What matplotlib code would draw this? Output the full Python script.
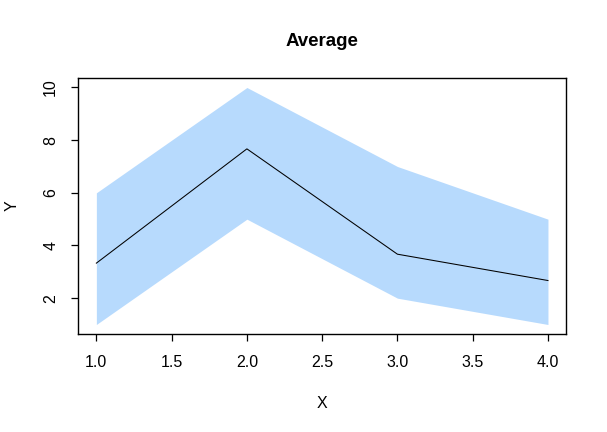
import matplotlib
matplotlib.use("Agg")
import matplotlib.pyplot as plt

# values
x = [1, 2, 3, 4]
upper = [6, 10, 7, 5]
lower = [1, 5, 2, 1]
avg = [3.33, 7.67, 3.67, 2.67]

plt.rcParams['font.family'] = ['Liberation Sans', 'DejaVu Sans']

fig = plt.figure(figsize=(6.07, 4.32), dpi=100)
ax = fig.add_axes([0.129, 0.2269, 0.8035, 0.5925])

ax.fill_between(x, lower, upper, color='#b7dafd', linewidth=0)
ax.plot(x, avg, color='black', linewidth=0.75)

ax.set_xlim(0.88, 4.12)
ax.set_ylim(0.64, 10.36)
ax.set_xticks([1.0, 1.5, 2.0, 2.5, 3.0, 3.5, 4.0])
ax.set_xticklabels(['1.0', '1.5', '2.0', '2.5', '3.0', '3.5', '4.0'])
ax.set_yticks([2, 4, 6, 8, 10])
ax.set_yticklabels(['2', '4', '6', '8', '10'], rotation=90, va='center')

for s in ax.spines.values():
    s.set_linewidth(1.0)
    s.set_color('black')
ax.tick_params(direction='out', length=5, width=0.9, labelsize=11.5, pad=10)
ax.tick_params(axis='y', pad=9.5)

ax.set_xlabel('X', fontsize=11.5, va='center')
ax.set_ylabel('Y', fontsize=11.5, va='center')
ax.xaxis.set_label_coords(0.5, -0.27)
ax.yaxis.set_label_coords(-0.135, 0.5)
fig.text(0.53, 0.905, 'Average', fontsize=13.5, fontweight='bold',
         ha='center', va='center')

fig.savefig('out.png', dpi=100)
